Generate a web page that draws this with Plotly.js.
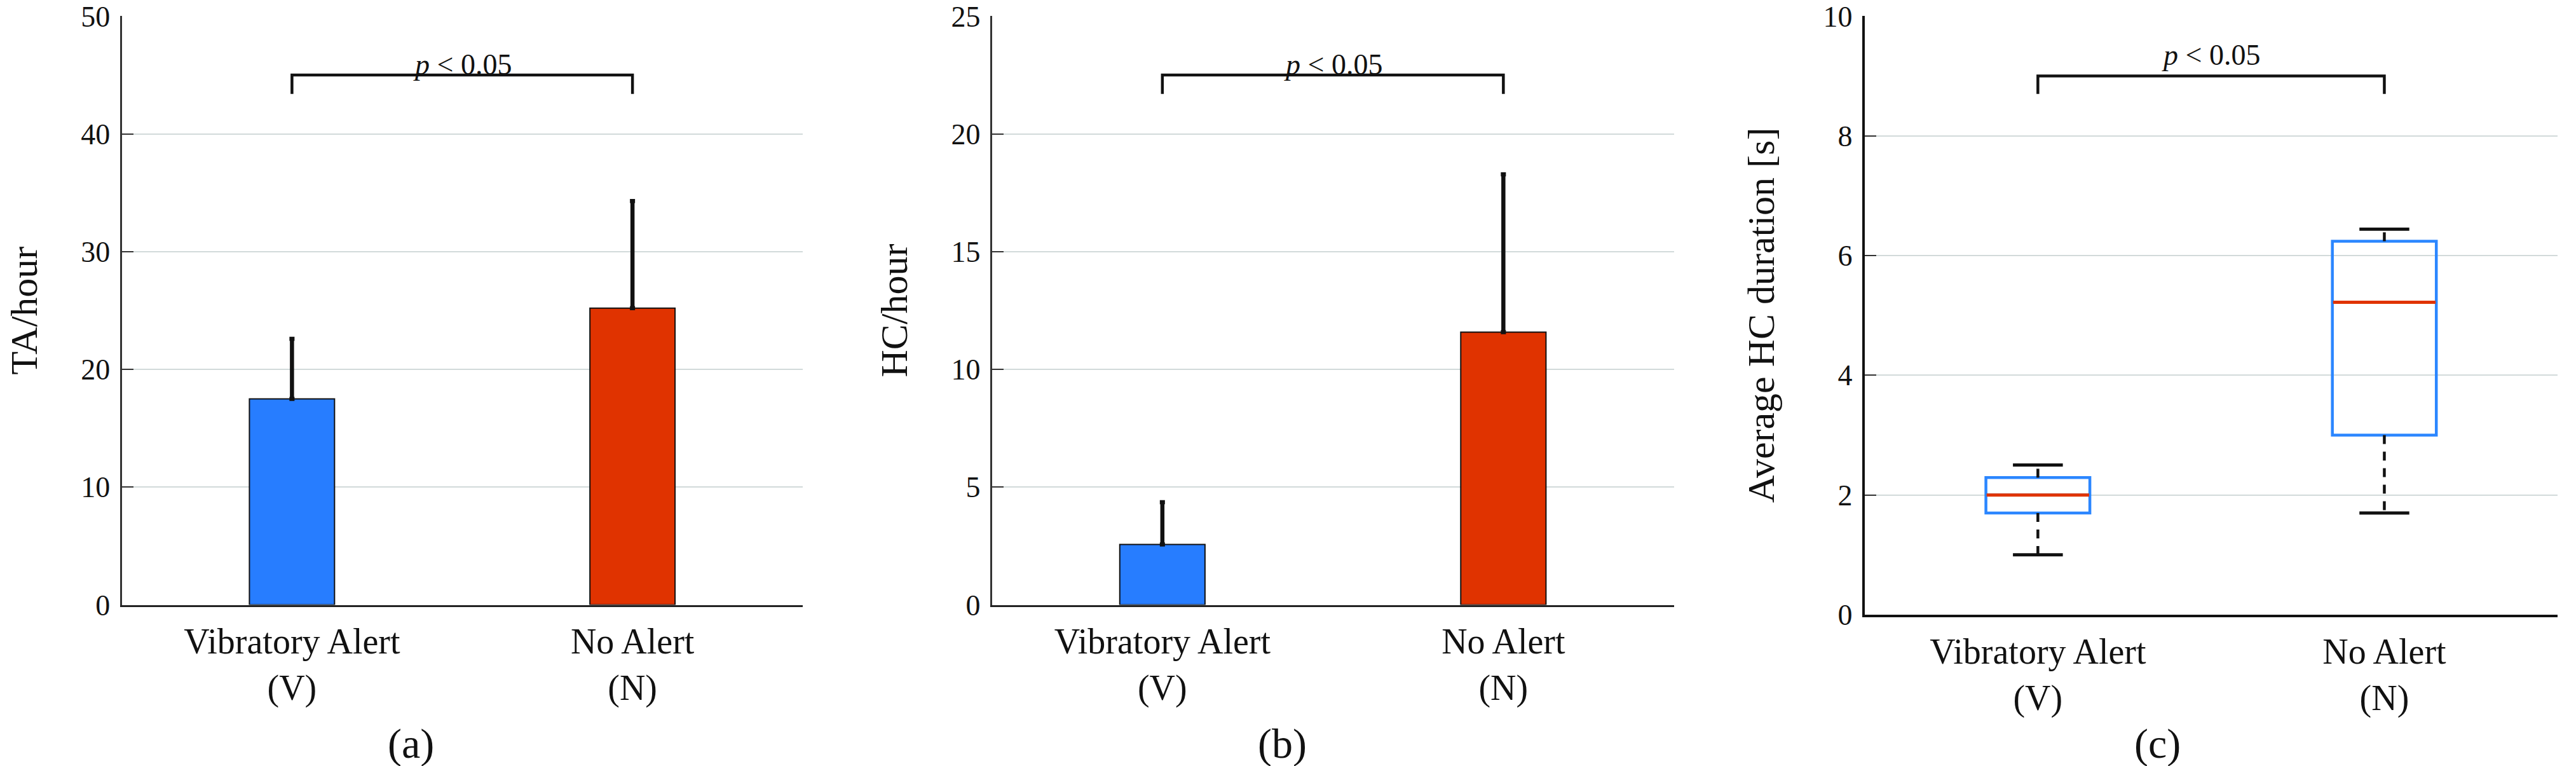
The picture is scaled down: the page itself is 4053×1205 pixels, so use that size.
<!DOCTYPE html>
<html>
<head>
<meta charset="utf-8">
<script src="https://cdn.plot.ly/plotly-3.0.1.min.js"></script>
<style>html,body{margin:0;padding:0;background:#fff;}</style>
</head>
<body>
<div id="chart" style="width:4053px;height:1205px;"></div>
<script>
// ---- data ----
var categories = ["Vibratory Alert<br>(V)", "No Alert<br>(N)"];
var catPos = [0, 1];

// (a) TA/hour
var taMean = [17.5, 25.2];
var taErr = [5.1, 9.1];
// (b) HC/hour
var hcMean = [2.57, 11.58];
var hcErr = [1.79, 6.7];
// (c) Average HC duration [s] box plot
var durLowerWhisker = [1.0, 1.7];
var durQ1 = [1.7, 3.0];
var durMedian = [2.0, 5.22];
var durQ3 = [2.29, 6.24];
var durUpperWhisker = [2.5, 6.44];

// significance brackets [a, b, c]
var bracketTop = [45.0, 22.5, 9.0];
var bracketDrop = [43.4, 21.7, 8.7];
var sigLabelY = [45.9, 22.95, 9.35];
var sigLabel = "<i>p</i> &lt; 0.05";

var panelLabels = ["(a)", "(b)", "(c)"];
var yTitles = ["TA/hour", "HC/hour", "Average HC duration [s]"];

// ---- style ----
var BLUE = "#277dff";
var RED = "#e03300";
var FONT = "'Liberation Serif', 'Times New Roman', serif";
var GRID = "#d2dada";

var traces = [];

// bars (a)
traces.push({
  type: "bar", x: catPos, y: taMean, xaxis: "x", yaxis: "y", width: 0.25,
  marker: {color: [BLUE, RED], line: {color: "#111", width: 2}},
  error_y: {type: "data", symmetric: false, array: taErr, arrayminus: [0, 0],
            color: "#111", thickness: 6.5, width: 4},
  showlegend: false, hoverinfo: "skip"
});
// bars (b)
traces.push({
  type: "bar", x: catPos, y: hcMean, xaxis: "x2", yaxis: "y2", width: 0.25,
  marker: {color: [BLUE, RED], line: {color: "#111", width: 2}},
  error_y: {type: "data", symmetric: false, array: hcErr, arrayminus: [0, 0],
            color: "#111", thickness: 6.5, width: 4},
  showlegend: false, hoverinfo: "skip"
});

// box (c): box body only (whiskers drawn separately as dashed lines)
traces.push({
  type: "box", x: catPos, q1: durQ1, median: durMedian, q3: durQ3,
  lowerfence: durQ1, upperfence: durQ3,
  xaxis: "x3", yaxis: "y3", width: 0.3, boxpoints: false,
  fillcolor: "rgba(0,0,0,0)", line: {color: "#2b86ff", width: 4.5},
  showlegend: false, hoverinfo: "skip"
});

// dashed whiskers
var wx = [], wy = [];
for (var i = 0; i < catPos.length; i++) {
  wx.push(catPos[i], catPos[i], null, catPos[i], catPos[i], null);
  wy.push(durQ3[i], durUpperWhisker[i], null, durQ1[i], durLowerWhisker[i], null);
}
traces.push({
  type: "scatter", mode: "lines", x: wx, y: wy, xaxis: "x3", yaxis: "y3",
  line: {color: "#111", width: 4.5, dash: "14px,12px"},
  showlegend: false, hoverinfo: "skip"
});
// whisker caps
var cx = [], cy = [];
var capHalf = 0.072;
for (var i = 0; i < catPos.length; i++) {
  cx.push(catPos[i] - capHalf, catPos[i] + capHalf, null, catPos[i] - capHalf, catPos[i] + capHalf, null);
  cy.push(durUpperWhisker[i], durUpperWhisker[i], null, durLowerWhisker[i], durLowerWhisker[i], null);
}
traces.push({
  type: "scatter", mode: "lines", x: cx, y: cy, xaxis: "x3", yaxis: "y3",
  line: {color: "#111", width: 5},
  showlegend: false, hoverinfo: "skip"
});
// red medians
var mx = [], my = [];
var boxHalf = 0.148;
for (var i = 0; i < catPos.length; i++) {
  mx.push(catPos[i] - boxHalf, catPos[i] + boxHalf, null);
  my.push(durMedian[i], durMedian[i], null);
}
traces.push({
  type: "scatter", mode: "lines", x: mx, y: my, xaxis: "x3", yaxis: "y3",
  line: {color: RED, width: 5},
  showlegend: false, hoverinfo: "skip"
});

// significance brackets
var axPairs = [["x", "y"], ["x2", "y2"], ["x3", "y3"]];
for (var k = 0; k < 3; k++) {
  traces.push({
    type: "scatter", mode: "lines",
    x: [catPos[0], catPos[0], catPos[1], catPos[1]],
    y: [bracketDrop[k], bracketTop[k], bracketTop[k], bracketDrop[k]],
    xaxis: axPairs[k][0], yaxis: axPairs[k][1],
    line: {color: "#111", width: 4.5},
    showlegend: false, hoverinfo: "skip"
  });
}

// ---- layout ----
var W = 4053, H = 1205;
function xAxis(domain, anchor) {
  return {
    domain: domain, anchor: anchor, range: [-0.5, 1.5],
    tickmode: "array", tickvals: catPos, ticktext: categories,
    ticks: "", showgrid: false, zeroline: false,
    showline: true, linecolor: "#222", linewidth: 3,
    tickfont: {family: FONT, size: 56, color: "#111"},
    ticklabelstandoff: 6, fixedrange: true
  };
}
function yAxis(domain, anchor, range, dtick) {
  return {
    domain: domain, anchor: anchor, range: range, dtick: dtick,
    tickmode: "linear", tick0: 0,
    ticks: "inside", ticklen: 18, tickwidth: 2, tickcolor: "#333",
    showgrid: true, gridcolor: GRID, gridwidth: 2, zeroline: false,
    showline: true, linecolor: "#333", linewidth: 3,
    tickfont: {family: FONT, size: 46, color: "#111"},
    ticklabelstandoff: 6, fixedrange: true
  };
}

var domA = [191.5 / W, 1263 / W], domB = [1560.6 / W, 2633.6 / W], domC = [2933.8 / W, 4024 / W];
var yDomAB = [1 - 951.6 / H, 1 - 25.4 / H], yDomC = [1 - 967 / H, 1 - 25.4 / H];

var annotations = [];
var yTitleLeft = [3 / W, 1372 / W, 2737 / W];
var yTitleY = [1 - 488.5 / H, 1 - 488.5 / H, 1 - 496 / H];
var panelX = [646 / W, 2017 / W, 3394 / W];
for (var k = 0; k < 3; k++) {
  annotations.push({
    xref: "paper", yref: "paper", x: yTitleLeft[k], y: yTitleY[k],
    text: yTitles[k], textangle: -90, showarrow: false,
    xanchor: "left", yanchor: "middle", borderpad: 0,
    font: {family: FONT, size: 60, color: "#111"}
  });
  annotations.push({
    xref: "paper", yref: "paper", x: panelX[k], y: 1 - 1170 / H,
    text: panelLabels[k], showarrow: false,
    xanchor: "center", yanchor: "middle",
    font: {family: FONT, size: 66, color: "#111"}
  });
  annotations.push({
    xref: axPairs[k][0], yref: axPairs[k][1], x: (catPos[0] + catPos[1]) / 2, y: sigLabelY[k],
    text: sigLabel, showarrow: false, xanchor: "center", yanchor: "middle",
    font: {family: FONT, size: 46, color: "#111"}
  });
}

var layout = {
  width: W, height: H,
  margin: {l: 0, r: 0, t: 0, b: 0},
  paper_bgcolor: "#fff", plot_bgcolor: "#fff",
  showlegend: false,
  xaxis: xAxis(domA, "y"),
  yaxis: yAxis(yDomAB, "x", [0, 50], 10),
  xaxis2: xAxis(domB, "y2"),
  yaxis2: yAxis(yDomAB, "x2", [0, 25], 5),
  xaxis3: xAxis(domC, "y3"),
  yaxis3: yAxis(yDomC, "x3", [0, 10], 2),
  annotations: annotations,
  bargap: 0
};
layout.xaxis3.linewidth = 4;
layout.yaxis3.linewidth = 4;
layout.xaxis3.linecolor = "#111";
layout.yaxis3.linecolor = "#111";

Plotly.newPlot("chart", traces, layout, {staticPlot: true, displayModeBar: false});
</script>
</body>
</html>
